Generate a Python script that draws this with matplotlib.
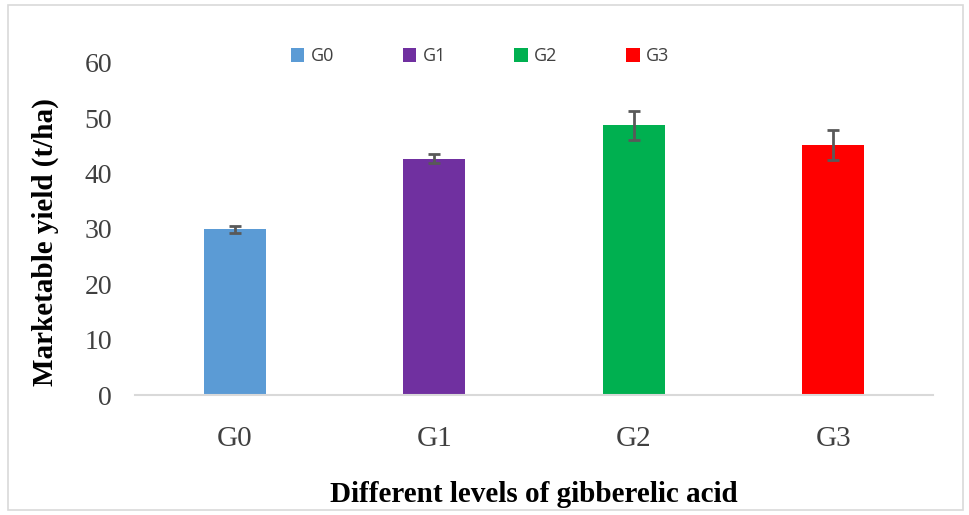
import matplotlib
matplotlib.use('Agg')
import matplotlib.pyplot as plt
from matplotlib.patches import Rectangle

# data
groups = ['G0', 'G1', 'G2', 'G3']
yield_tha = [29.9, 42.7, 48.7, 45.1]
errors = [0.7, 0.75, 2.6, 2.7]
colors = ['#5b9bd5', '#7030a0', '#00b050', '#ff0000']

fig = plt.figure(figsize=(9.7, 5.15), dpi=100)
ax = fig.add_axes([0.139, 0.233, 0.823, 0.645])

x = range(len(groups))
for i in x:
    ax.bar(i, yield_tha[i], width=0.31, color=colors[i], label=groups[i], zorder=2)
ax.errorbar(list(x), yield_tha, yerr=errors, fmt='none', ecolor='#595959',
            elinewidth=2, capsize=4, capthick=2, zorder=3)

ax.set_xlim(-0.5, 3.5)
ax.set_ylim(0, 60)
ax.set_yticks(range(0, 61, 10))
ax.set_xticks(list(x))
ax.set_xticklabels(groups)

for s in ['top', 'right', 'left']:
    ax.spines[s].set_visible(False)
ax.spines['bottom'].set_color('#d9d9d9')
ax.spines['bottom'].set_linewidth(1.5)
ax.tick_params(axis='both', length=0, labelcolor='#404040')
ax.tick_params(axis='y', labelsize=20, pad=16.5)
ax.tick_params(axis='x', labelsize=21, pad=22)
for lab in ax.get_xticklabels() + ax.get_yticklabels():
    lab.set_family('Liberation Serif')

ax.set_ylabel('Marketable yield (t/ha)', fontsize=21, fontweight='bold',
              family='Liberation Serif')
ax.yaxis.set_label_coords(-0.095, 0.461)
ax.set_xlabel('Different levels of gibberelic acid', fontsize=21,
              fontweight='bold', family='Liberation Serif', labelpad=21)

leg = ax.legend(loc='center', bbox_to_anchor=(0.4325, 1.02), ncol=4,
                frameon=False, fontsize=13, handlelength=0.75,
                handleheight=0.75, columnspacing=3.8, handletextpad=0.35)
for t in leg.get_texts():
    t.set_color('#404040')
    t.set_family('Open Sans')

fig.patches.append(Rectangle((0.008, 0.01), 0.985, 0.98, transform=fig.transFigure,
                             fill=False, edgecolor='#d9d9d9', linewidth=1.2))

fig.savefig('out.png', dpi=100)
